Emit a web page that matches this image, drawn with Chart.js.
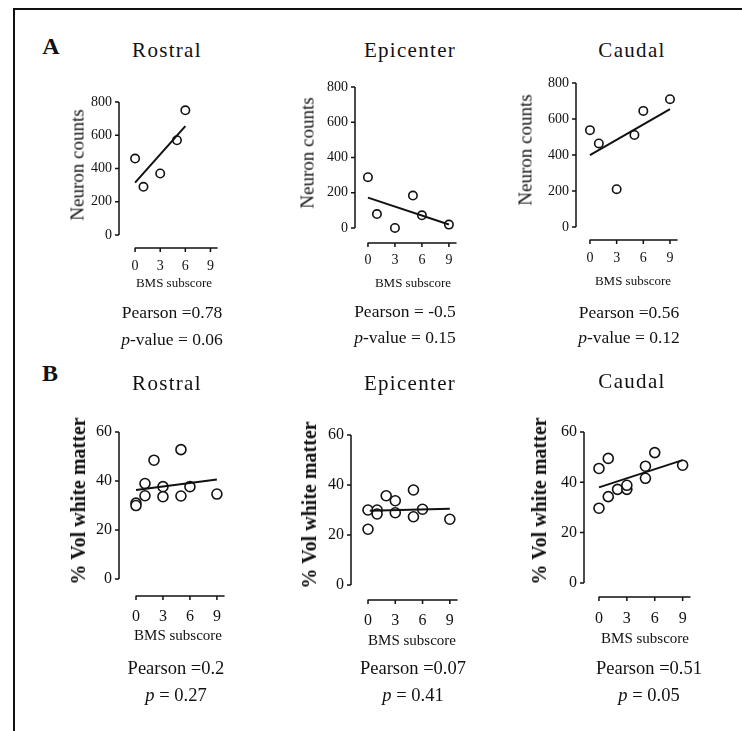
<!DOCTYPE html>
<html>
<head>
<meta charset="utf-8">
<script src="https://cdn.jsdelivr.net/npm/chart.js@4.4.1/dist/chart.umd.min.js"></script>
<style>
  html, body { margin: 0; padding: 0; background: #fff; }
  #page { position: relative; width: 742px; height: 731px; overflow: hidden; font-family: 'Liberation Serif', serif; color: #111; }
  #frame { position: absolute; left: 13px; top: 8px; width: 780px; height: 780px; border-top: 2px solid #111; border-left: 2px solid #111; }
  canvas { position: absolute; }
  .t { position: absolute; transform: translate(-50%, -50%); white-space: nowrap; line-height: 1; }
  .yt { position: absolute; transform: translate(-50%, -50%) rotate(-90deg); white-space: nowrap; line-height: 1; }
</style>
</head>
<body>
<div id="page"><div id="frame"></div></div>
<script>
const regions = ['Rostral', 'Epicenter', 'Caudal'];
const bmsTicks = [0, 3, 6, 9];
const neuronTicks = [0, 200, 400, 600, 800];
const whiteTicks = [0, 20, 40, 60];

// A: neuron counts vs BMS subscore
const neuronRostralBms = [0, 1, 3, 5, 6];
const neuronRostral = [460, 290, 370, 570, 750];
const neuronEpicenterBms = [0, 1, 3, 5, 6, 9];
const neuronEpicenter = [288, 79, 0, 184, 72, 19];
const neuronCaudalBms = [0, 1, 3, 5, 6, 9];
const neuronCaudal = [538, 464, 210, 511, 645, 710];

// A: fitted lines (start / end)
const neuronRostralFitBms = [0, 6];
const neuronRostralFit = [315, 655];
const neuronEpicenterFitBms = [0, 9];
const neuronEpicenterFit = [172, 20];
const neuronCaudalFitBms = [0, 9];
const neuronCaudalFit = [399, 655];

// B: % vol white matter vs BMS subscore
const whiteRostralBms = [0, 0, 1, 1, 2, 3, 3, 5, 5, 6, 9];
const whiteRostral = [31, 30, 39, 34, 48.5, 37.7, 33.6, 52.8, 33.9, 37.7, 34.7];
const whiteEpicenterBms = [0, 0, 1, 1, 2, 3, 3, 5, 5, 6, 9];
const whiteEpicenter = [30, 22.3, 30, 28.4, 35.7, 33.7, 28.9, 38, 27.3, 30.3, 26.3];
const whiteCaudalBms = [0, 0, 1, 1, 2, 3, 3, 5, 5, 6, 9];
const whiteCaudal = [45.5, 29.7, 49.5, 34.3, 37.2, 37.2, 38.8, 46.4, 41.6, 51.8, 46.8];

// B: fitted lines (start / end)
const whiteRostralFitBms = [0, 9];
const whiteRostralFit = [36.3, 40.6];
const whiteEpicenterFitBms = [0.2, 9];
const whiteEpicenterFit = [29.7, 30.5];
const whiteCaudalFitBms = [0, 9];
const whiteCaudalFit = [38, 48.8];

const neuronPearson = ['Pearson =0.78', 'Pearson = -0.5', 'Pearson =0.56'];
const neuronPValue = ['0.06', '0.15', '0.12'];
const whitePearson = ['Pearson =0.2', 'Pearson =0.07', 'Pearson =0.51'];
const whitePValue = ['0.27', '0.41', '0.05'];

const FONT = "'Liberation Serif', serif";
const INK = '#111';
const page = document.getElementById('page');

// draws detached prism-style axes from the chart's own scales
const prismAxes = {
  id: 'prismAxes',
  beforeDatasetsDraw(chart, args, opts) {
    const { ctx, chartArea, scales: { x, y } } = chart;
    const yTicks = opts.yTicks;
    ctx.save();
    ctx.strokeStyle = INK;
    ctx.lineWidth = 1.5;
    ctx.beginPath();
    const ax = chartArea.left;
    ctx.moveTo(ax, y.getPixelForValue(yTicks[0]));
    ctx.lineTo(ax, y.getPixelForValue(yTicks[yTicks.length - 1]));
    for (const v of yTicks) {
      const py = y.getPixelForValue(v);
      ctx.moveTo(ax, py);
      ctx.lineTo(ax - 4, py);
    }
    const ay = chartArea.bottom - 1;
    ctx.moveTo(x.getPixelForValue(-0.05), ay);
    ctx.lineTo(x.getPixelForValue(9.85), ay);
    for (const v of opts.xTicks) {
      const px = x.getPixelForValue(v);
      ctx.moveTo(px, ay);
      ctx.lineTo(px, ay + 4);
    }
    ctx.stroke();
    ctx.restore();
  }
};

function pts(xs, ys) {
  return xs.map((v, i) => ({ x: v, y: ys[i] }));
}

function addText(html, cx, cy, style, cls) {
  const d = document.createElement('div');
  d.className = cls || 't';
  d.innerHTML = html;
  d.style.left = cx + 'px';
  d.style.top = cy + 'px';
  Object.assign(d.style, style);
  page.appendChild(d);
}

function makePanel(p, points, fit, yTicks, yMax, fs) {
  const W_Y = 60, PAD_T = 20, PAD_R = 10, H_X = 36;
  const canvas = document.createElement('canvas');
  const w = Math.round(W_Y + (p.right - p.axisX) + PAD_R);
  const h = Math.round(PAD_T + (p.bottom - p.top) + H_X);
  canvas.width = w;
  canvas.height = h;
  canvas.style.left = (p.axisX - W_Y) + 'px';
  canvas.style.top = (p.top - PAD_T) + 'px';
  page.appendChild(canvas);

  new Chart(canvas, {
    type: 'scatter',
    data: {
      datasets: [
        { type: 'line', data: fit, borderColor: INK, borderWidth: 2, pointRadius: 0, fill: false },
        {
          data: points,
          pointRadius: p.r,
          pointBorderWidth: 1.6,
          pointBackgroundColor: '#fff',
          pointBorderColor: INK,
          showLine: false
        }
      ]
    },
    options: {
      responsive: false,
      animation: false,
      devicePixelRatio: 1,
      layout: { padding: { top: PAD_T, right: PAD_R, left: 0, bottom: 0 } },
      plugins: {
        legend: { display: false },
        tooltip: { enabled: false },
        prismAxes: { xTicks: bmsTicks, yTicks: yTicks }
      },
      scales: {
        x: {
          type: 'linear',
          min: p.xMin,
          max: 9.9,
          afterBuildTicks: (s) => { s.ticks = bmsTicks.map((v) => ({ value: v })); },
          afterFit: (s) => { s.height = H_X; },
          grid: { display: false, drawTicks: false },
          border: { display: false },
          ticks: { font: { family: FONT, size: fs.xTick }, color: INK, padding: p.xPad, autoSkip: false, maxRotation: 0 }
        },
        y: {
          type: 'linear',
          min: p.yMin,
          max: yMax,
          afterBuildTicks: (s) => { s.ticks = yTicks.map((v) => ({ value: v })); },
          afterFit: (s) => { s.width = W_Y; },
          grid: { display: false, drawTicks: false },
          border: { display: false },
          ticks: { font: { family: FONT, size: fs.yTick }, color: INK, padding: 7 }
        }
      }
    },
    plugins: [prismAxes]
  });
}

// panel positions (pixels) and axis ranges
const layoutA = [
  { axisX: 119, right: 218, top: 102, bottom: 249, xMin: -1.92, yMin: -84, r: 4.2, xPad: 9,
    title: [167, 50], ylab: [77, 165], xlab: [174, 282], stat: [172, 313, 340] },
  { axisX: 355, right: 457, top: 87, bottom: 244, xMin: -1.44, yMin: -91, r: 4.2, xPad: 8,
    title: [410, 50], ylab: [307, 153], xlab: [413, 282], stat: [405, 312, 338] },
  { axisX: 576, right: 678, top: 83, bottom: 241, xMin: -1.57, yMin: -78, r: 4.2, xPad: 9,
    title: [632, 50], ylab: [525, 150], xlab: [633, 280], stat: [629, 313, 338] }
];
const layoutB = [
  { axisX: 119, right: 225, top: 432, bottom: 597, xMin: -1.89, yMin: -7.3, r: 5, xPad: 10,
    title: [167, 383], ylab: [78, 501], xlab: [178, 635], stat: [176, 668, 695] },
  { axisX: 351, right: 458, top: 435, bottom: 601, xMin: -1.87, yMin: -6.4, r: 5, xPad: 10,
    title: [410, 383], ylab: [309, 505], xlab: [412, 640], stat: [413, 668, 695] },
  { axisX: 584, right: 691, top: 432, bottom: 598, xMin: -1.61, yMin: -6, r: 5, xPad: 11,
    title: [632, 381], ylab: [539, 501], xlab: [645, 638], stat: [649, 668, 695] }
];

const neuronSets = [
  [pts(neuronRostralBms, neuronRostral), pts(neuronRostralFitBms, neuronRostralFit)],
  [pts(neuronEpicenterBms, neuronEpicenter), pts(neuronEpicenterFitBms, neuronEpicenterFit)],
  [pts(neuronCaudalBms, neuronCaudal), pts(neuronCaudalFitBms, neuronCaudalFit)]
];
const whiteSets = [
  [pts(whiteRostralBms, whiteRostral), pts(whiteRostralFitBms, whiteRostralFit)],
  [pts(whiteEpicenterBms, whiteEpicenter), pts(whiteEpicenterFitBms, whiteEpicenterFit)],
  [pts(whiteCaudalBms, whiteCaudal), pts(whiteCaudalFitBms, whiteCaudalFit)]
];

addText('A', 51, 46, { fontSize: '24px', fontWeight: 'bold' });
addText('B', 50, 373, { fontSize: '24px', fontWeight: 'bold' });

regions.forEach((name, i) => {
  const a = layoutA[i];
  makePanel(a, neuronSets[i][0], neuronSets[i][1], neuronTicks, 800, { xTick: 14, yTick: 14 });
  addText(name, a.title[0], a.title[1], { fontSize: '21px', letterSpacing: '1.3px' });
  addText('Neuron counts', a.ylab[0], a.ylab[1], { fontSize: '19px' }, 'yt');
  addText('BMS subscore', a.xlab[0], a.xlab[1], { fontSize: '13px' });
  addText(neuronPearson[i], a.stat[0], a.stat[1], { fontSize: '17.5px' });
  addText('<i>p</i>-value = ' + neuronPValue[i], a.stat[0], a.stat[2], { fontSize: '17.5px' });

  const b = layoutB[i];
  makePanel(b, whiteSets[i][0], whiteSets[i][1], whiteTicks, 60, { xTick: 16, yTick: 16 });
  addText(name, b.title[0], b.title[1], { fontSize: '21px', letterSpacing: '1.3px' });
  addText('% Vol white matter', b.ylab[0], b.ylab[1], { fontSize: '20px', fontWeight: 'bold' }, 'yt');
  addText('BMS subscore', b.xlab[0], b.xlab[1], { fontSize: '15px' });
  addText(whitePearson[i], b.stat[0], b.stat[1], { fontSize: '18.5px' });
  addText('<i>p</i> = ' + whitePValue[i], b.stat[0], b.stat[2], { fontSize: '18.5px' });
});
</script>
</body>
</html>
